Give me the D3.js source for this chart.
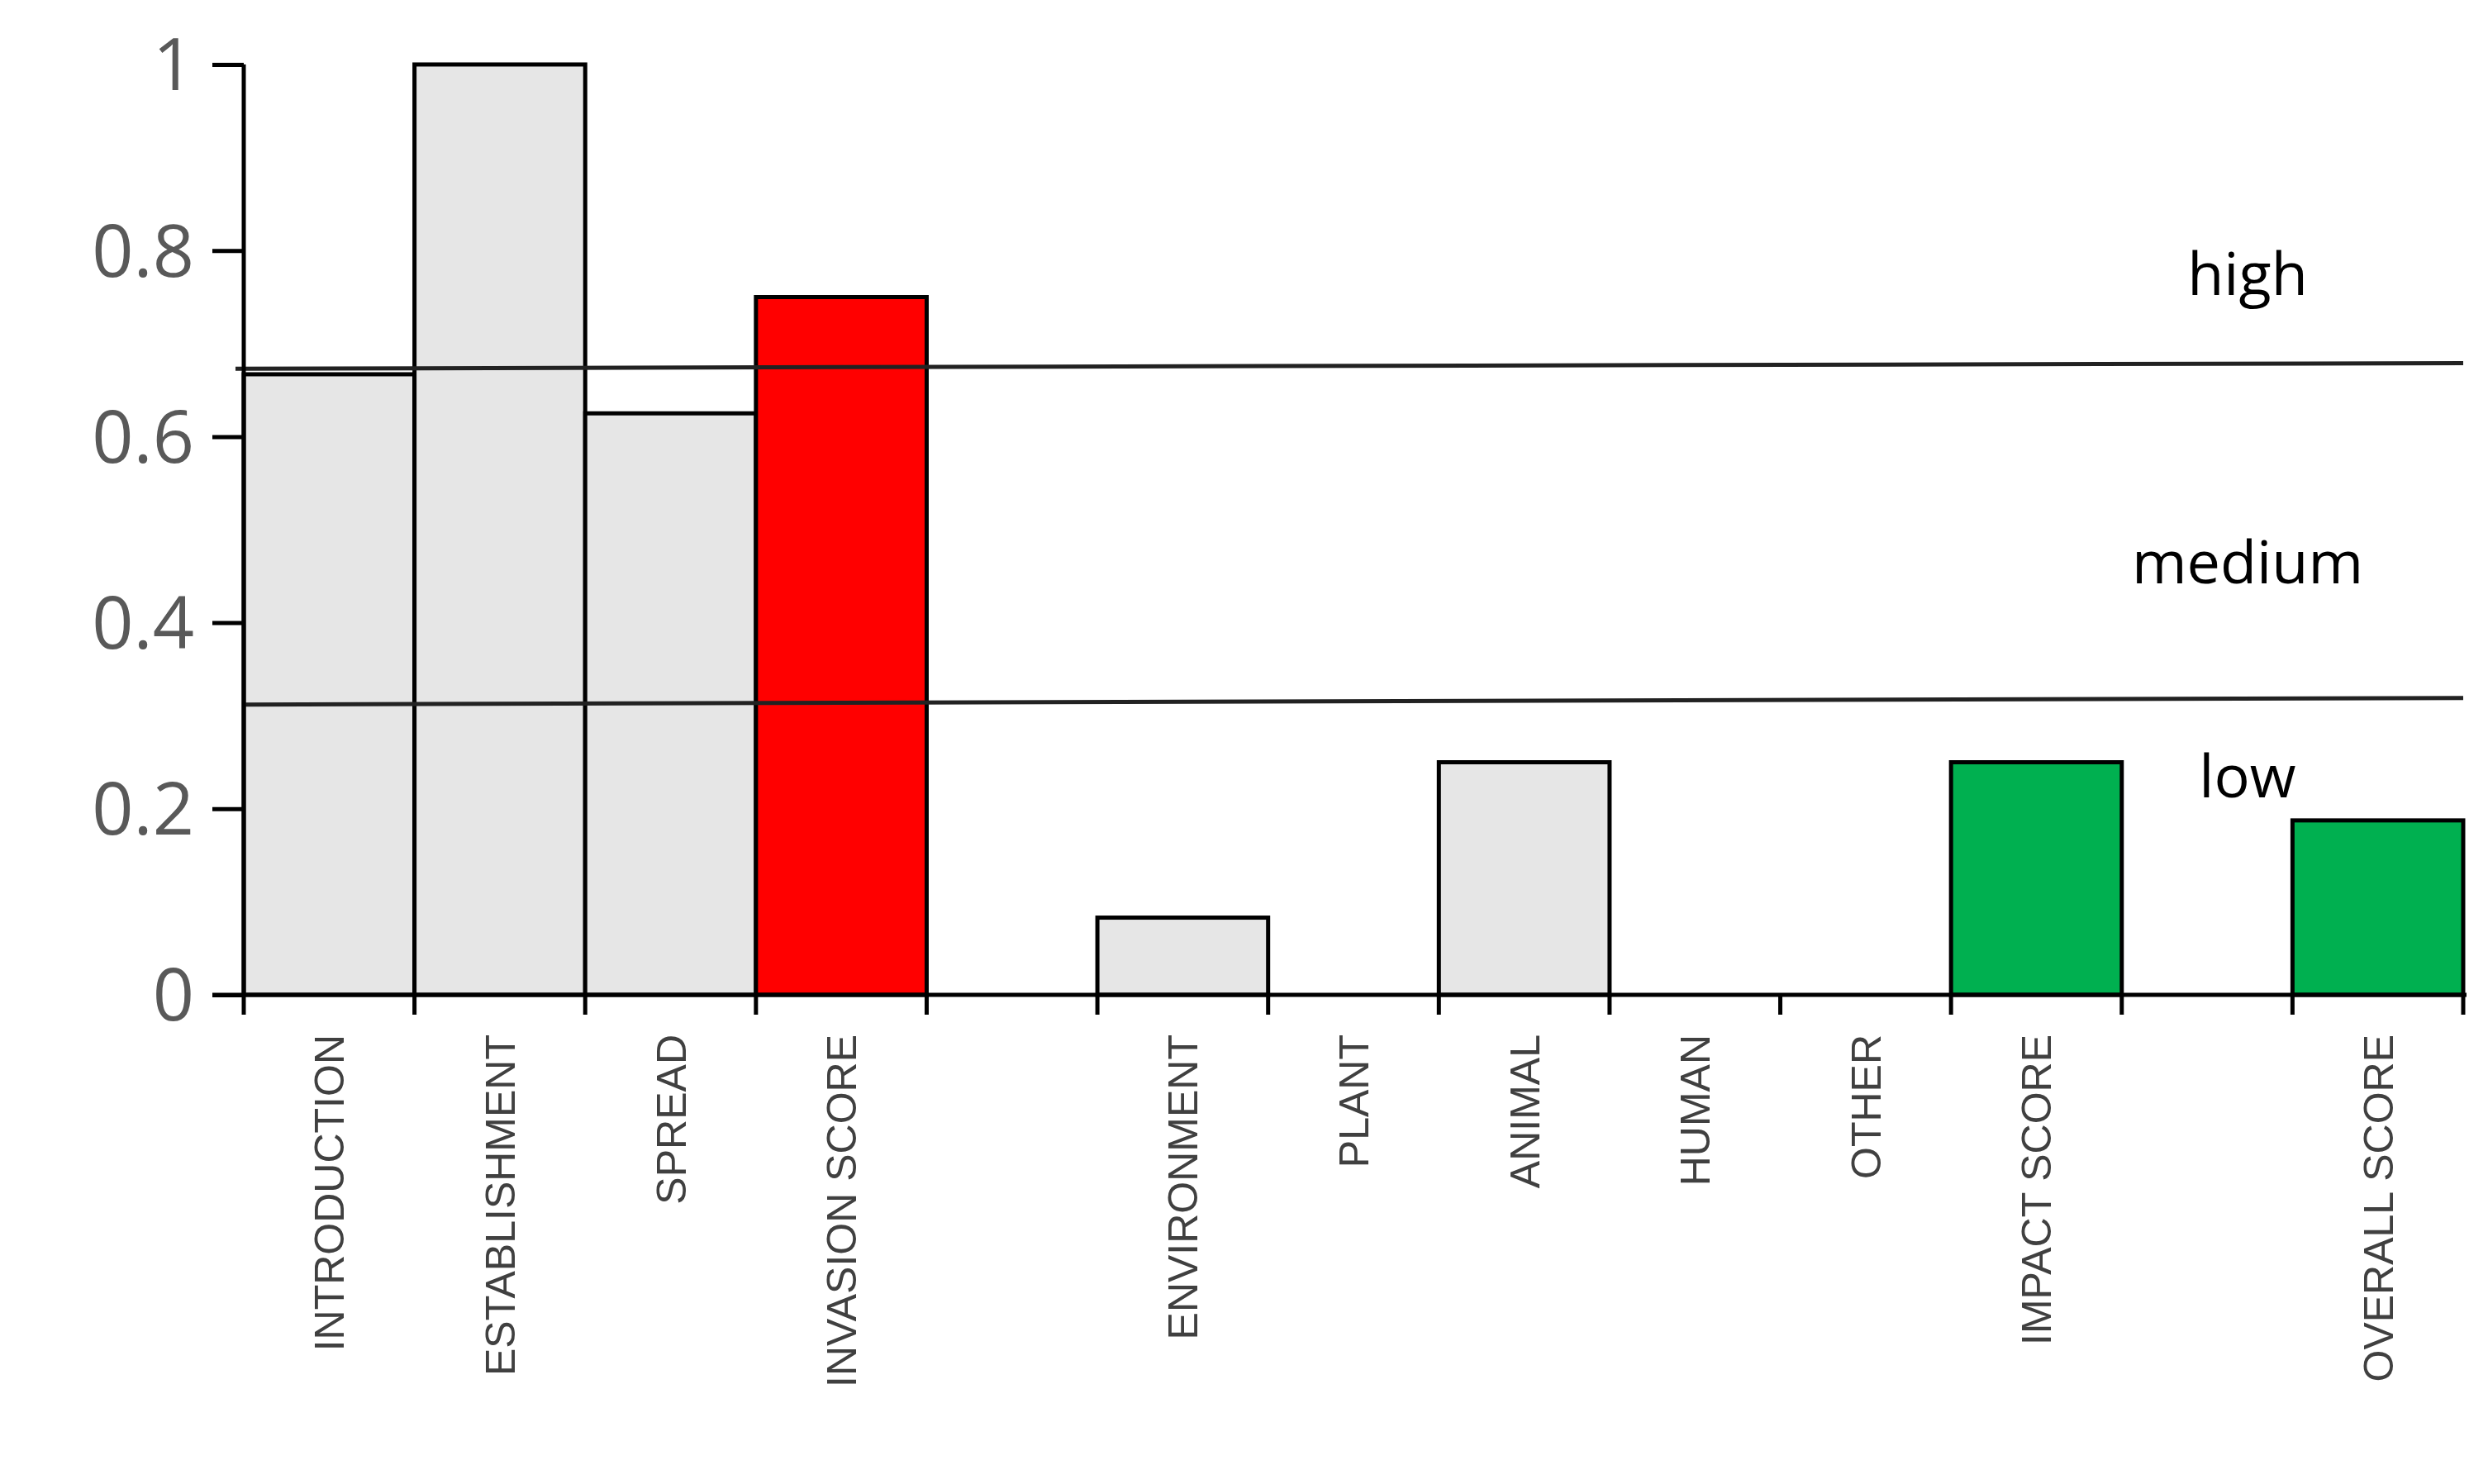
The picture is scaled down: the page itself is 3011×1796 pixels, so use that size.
<!DOCTYPE html>
<html><head><meta charset="utf-8">
<script src="https://cdn.jsdelivr.net/npm/d3@7"></script>
<style>body{margin:0;background:#fff}</style>
</head><body>
<svg id="chart" width="3011" height="1796"></svg>
<script>
// risk score chart

const categories = ['INTRODUCTION', 'ESTABLISHMENT', 'SPREAD', 'INVASION SCORE', 'gap1',
                    'ENVIRONMENT', 'PLANT', 'ANIMAL', 'HUMAN', 'OTHER', 'IMPACT SCORE', 'gap2', 'OVERALL SCORE'];
const values = [0.667, 1, 0.625, 0.75, null, 0.083, 0, 0.25, 0, 0, 0.25, null, 0.1875];
const barColours = ['#e6e6e6', '#e6e6e6', '#e6e6e6', '#ff0000', null, '#e6e6e6', '#e6e6e6', '#e6e6e6',
                    '#e6e6e6', '#e6e6e6', '#00b050', null, '#00b050'];
const yTicks = [0, 0.2, 0.4, 0.6, 0.8, 1];
// threshold lines: [value at left end, value at right end]
const thresholds = [{ name: 'high', from: 0.673, to: 0.679 }, { name: 'low', from: 0.312, to: 0.319 }];
const zoneLabels = [{ text: 'high', y: 0.775 }, { text: 'medium', y: 0.465 }, { text: 'low', y: 0.235 }];

const plotLeft = 295, plotRight = 2981, plotTop = 78, plotBottom = 1204;

const svg = d3.select('#chart');

const x = d3.scaleBand().domain(categories).range([plotLeft, plotRight]).padding(0);
const y = d3.scaleLinear().domain([0, 1]).range([plotBottom, plotTop]);

// bars
svg.selectAll('rect.bar')
  .data(categories.map((c, i) => ({ c: c, v: values[i], col: barColours[i] })).filter(d => d.v !== null && d.v > 0))
  .enter()
  .append('rect')
  .attr('class', 'bar')
  .attr('x', d => x(d.c))
  .attr('y', d => y(d.v))
  .attr('width', x.bandwidth())
  .attr('height', d => y(0) - y(d.v))
  .style('fill', d => d.col)
  .style('stroke', '#000')
  .style('stroke-width', 5);

// threshold lines
svg.selectAll('line.thr')
  .data(thresholds)
  .enter()
  .append('line')
  .attr('x1', d => d.name === 'high' ? plotLeft - 10 : plotLeft)
  .attr('x2', plotRight)
  .attr('y1', d => y(d.from))
  .attr('y2', d => y(d.to))
  .style('stroke', '#222')
  .style('stroke-width', 5);

// y axis
const yAxis = svg.append('g')
  .attr('transform', 'translate(' + plotLeft + ',0)')
  .call(d3.axisLeft(y).tickValues(yTicks).tickSize(38).tickPadding(22).tickFormat(d => d));
yAxis.select('.domain').attr('stroke', '#000').attr('stroke-width', 5).attr('d', 'M0,' + plotTop + 'V' + plotBottom);
yAxis.selectAll('.tick line').attr('stroke', '#000').attr('stroke-width', 5);
yAxis.selectAll('.tick text')
  .style('font-family', '"Open Sans", sans-serif')
  .style('font-size', '88px')
  .style('fill', '#595959')
  .attr('dy', '0.35em');

// x axis
const xAxis = svg.append('g').attr('transform', 'translate(0,' + plotBottom + ')');
xAxis.append('line')
  .attr('x1', plotLeft - 38).attr('x2', plotRight + 4)
  .style('stroke', '#000').style('stroke-width', 5);
const edges = categories.map(c => x(c)).concat([plotRight]);
xAxis.selectAll('line.xt')
  .data(edges)
  .enter()
  .append('line')
  .attr('x1', d => d).attr('x2', d => d)
  .attr('y1', 0).attr('y2', 24)
  .style('stroke', '#000').style('stroke-width', 5);

xAxis.selectAll('text.cat')
  .data(categories.filter(c => !c.startsWith('gap')))
  .enter()
  .append('text')
  .attr('transform', d => 'translate(' + (x(d) + x.bandwidth() / 2 + 18) + ',48) rotate(-90)')
  .attr('text-anchor', 'end')
  .style('font-family', '"Liberation Sans", Arial, sans-serif')
  .style('font-size', '50px')
  .style('fill', '#404040')
  .text(d => d);

// zone labels
svg.selectAll('text.zone')
  .data(zoneLabels)
  .enter()
  .append('text')
  .attr('x', 2720)
  .attr('y', d => y(d.y))
  .attr('text-anchor', 'middle')
  .attr('dy', '0.35em')
  .style('font-family', '"Open Sans", sans-serif')
  .style('font-size', '72px')
  .style('fill', '#000')
  .text(d => d.text);
</script>
</body></html>
